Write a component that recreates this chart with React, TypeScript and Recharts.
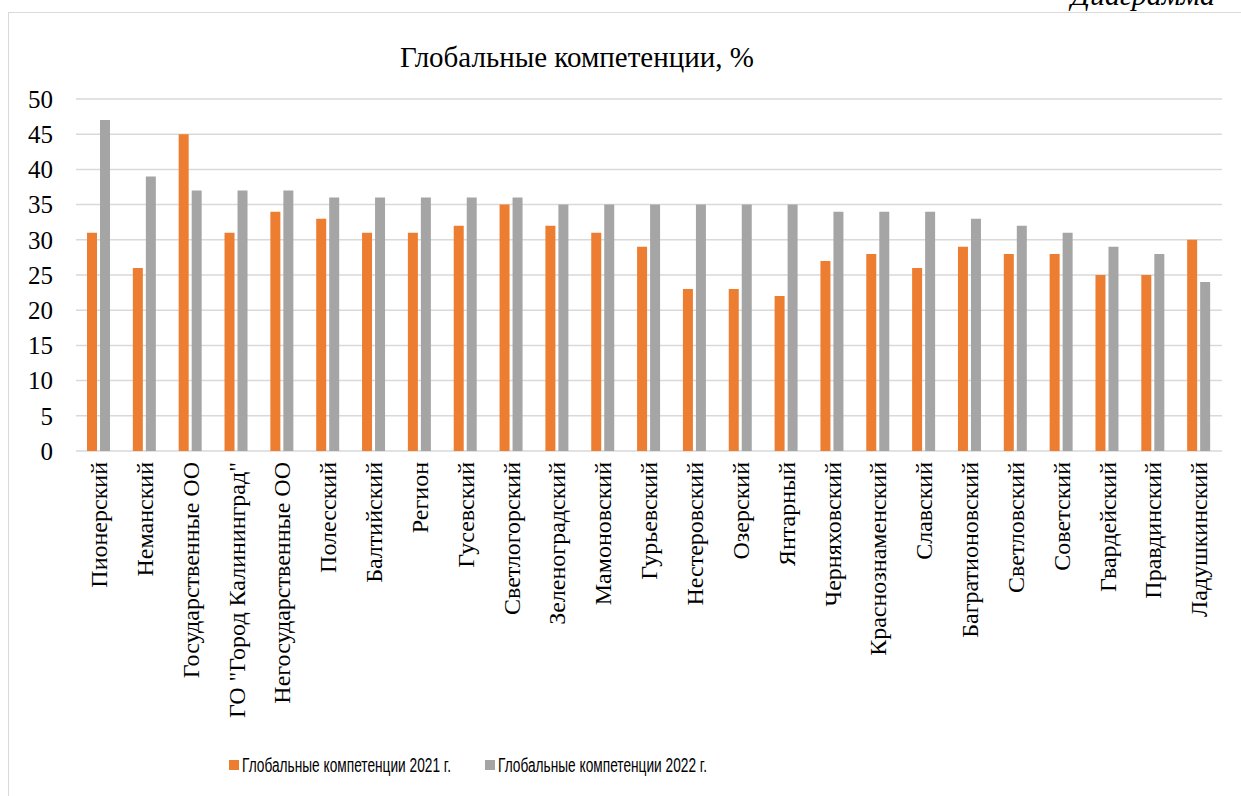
import React from 'react';
import { BarChart, Bar, XAxis, YAxis, CartesianGrid } from 'recharts';

const districts = [
  'Пионерский', 'Неманский', 'Государственные ОО', 'ГО "Город Калининград"', 'Негосударственные ОО',
  'Полесский', 'Балтийский', 'Регион', 'Гусевский', 'Светлогорский',
  'Зеленоградский', 'Мамоновский', 'Гурьевский', 'Нестеровский', 'Озерский',
  'Янтарный', 'Черняховский', 'Краснознаменский', 'Славский', 'Багратионовский',
  'Светловский', 'Советский', 'Гвардейский', 'Правдинский', 'Ладушкинский',
];
const values2021 = [31, 26, 45, 31, 34, 33, 31, 31, 32, 35, 32, 31, 29, 23, 23, 22, 27, 28, 26, 29, 28, 28, 25, 25, 30];
const values2022 = [47, 39, 37, 37, 37, 36, 36, 36, 36, 36, 35, 35, 35, 35, 35, 35, 34, 34, 34, 33, 32, 31, 29, 28, 24];
const yTicks = [0, 5, 10, 15, 20, 25, 30, 35, 40, 45, 50];

const label2021 = 'Глобальные компетенции 2021 г.';
const label2022 = 'Глобальные компетенции 2022 г.';

const data = districts.map((name, i) => ({ name, v2021: values2021[i], v2022: values2022[i] }));

const serif = '"Liberation Serif", "Times New Roman", serif';
const sans = '"Liberation Sans", Arial, sans-serif';

function RotatedTick(props: any) {
  const { x, payload } = props;
  const y = 462;
  return (
    <text
      x={x}
      y={y}
      transform={`rotate(-90, ${x}, ${y})`}
      textAnchor="end"
      dy="0.34em"
      fontSize={24}
      fontFamily={serif}
      fill="#000"
    >
      {payload.value}
    </text>
  );
}

const legendText: React.CSSProperties = {
  position: 'absolute',
  top: 753,
  fontFamily: sans,
  fontSize: 20,
  lineHeight: '24px',
  color: '#000',
  whiteSpace: 'nowrap',
  transform: 'scaleX(0.685)',
  transformOrigin: 'left center',
};

export default function App() {
  return (
    <div style={{ position: 'absolute', left: 0, top: 0, width: 1241, height: 796, background: '#fff', overflow: 'hidden' }}>
      <div style={{ position: 'absolute', left: 8, top: 12, width: 1260, height: 800, border: '1.5px solid #d9d9d9', boxSizing: 'border-box' }} />
      <div style={{ position: 'absolute', right: 26, top: -20, fontFamily: serif, fontStyle: 'italic', fontSize: 30, lineHeight: '30px' }}>
        Диаграмма
      </div>
      <div style={{ position: 'absolute', left: 327, width: 500, top: 40, textAlign: 'center', fontFamily: serif, fontSize: 29, lineHeight: '34px' }}>
        Глобальные компетенции, %
      </div>
      <div style={{ position: 'absolute', left: 0, top: 0 }}>
        <BarChart width={1241} height={796} data={data} margin={{ top: 99, right: 19, left: 0, bottom: 0 }} barSize={10} barGap={3}>
          <CartesianGrid vertical={false} stroke="#d9d9d9" strokeWidth={1.5} />
          <XAxis dataKey="name" height={345} axisLine={false} tickLine={false} interval={0} tick={<RotatedTick />} />
          <YAxis
            width={76}
            domain={[0, 50]}
            ticks={yTicks}
            axisLine={false}
            tickLine={false}
            tickSize={0}
            tickMargin={23}
            tick={{ fontSize: 25, fontFamily: serif, fill: '#000' }}
          />
          <Bar dataKey="v2021" name={label2021} fill="#ED7D31" isAnimationActive={false} />
          <Bar dataKey="v2022" name={label2022} fill="#A5A5A5" isAnimationActive={false} />
        </BarChart>
      </div>
      <div style={{ position: 'absolute', left: 229, top: 760, width: 10, height: 10, background: '#ED7D31' }} />
      <div style={{ ...legendText, left: 242 }}>{label2021}</div>
      <div style={{ position: 'absolute', left: 485, top: 760, width: 10, height: 10, background: '#A5A5A5' }} />
      <div style={{ ...legendText, left: 498 }}>{label2022}</div>
    </div>
  );
}
